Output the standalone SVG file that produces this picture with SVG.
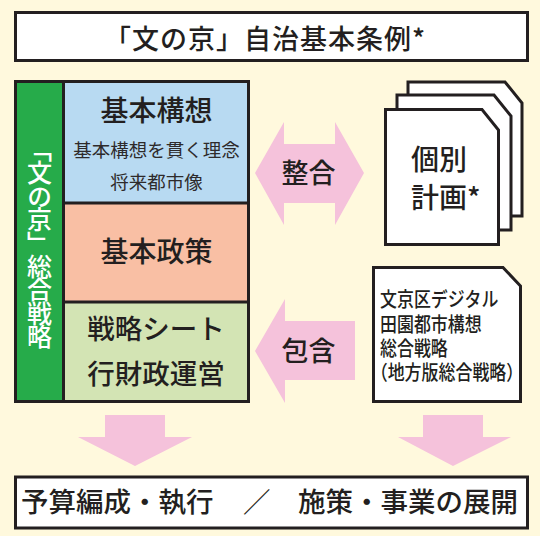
<svg xmlns="http://www.w3.org/2000/svg" width="540" height="536" viewBox="0 0 540 536">
<style>
.bg{fill:#FFF9DD}
.box{fill:#FFFFFF;stroke:#231F20;stroke-width:3}
.line{fill:none;stroke:#231F20;stroke-width:3}
.arrow{fill:#F5C2DB}
.t{font-family:"Noto Sans CJK JP","Noto Sans",sans-serif;fill:#231F20;font-weight:500}
.sub{font-family:"Noto Sans CJK JP","Noto Sans",sans-serif;fill:#2E2A2B;font-weight:400}
.v{font-family:"Noto Sans CJK JP","Noto Sans",sans-serif;fill:#FFFFFF;font-weight:500;writing-mode:vertical-rl}
</style>
<rect class="bg" x="0" y="0" width="540" height="536"/>

<g id="title">
<rect class="box" x="15.5" y="12.5" width="512" height="48"/>
<text class="t" x="104" y="49" font-size="27" letter-spacing="1">「文の京」自治基本条例*</text>
</g>

<g id="strategy">
<rect x="15.5" y="81.5" width="48" height="320" fill="#26AB4A"/>
<rect x="63.5" y="81.5" width="185" height="121.5" fill="#B8DAF2"/>
<rect x="63.5" y="203" width="185" height="99" fill="#F9BFA4"/>
<rect x="63.5" y="302" width="185" height="99.5" fill="#D3E4B4"/>
<rect class="line" x="15.5" y="81.5" width="233" height="320"/>
<line class="line" x1="63.5" y1="81.5" x2="63.5" y2="401.5"/>
<line class="line" x1="63.5" y1="203" x2="248.5" y2="203"/>
<line class="line" x1="63.5" y1="302" x2="248.5" y2="302"/>
<text class="v" x="39.5" y="137" font-size="25" textLength="212" lengthAdjust="spacing">「文の京」総合戦略</text>
</g>

<g id="basic-plan">
<text class="t" x="156.5" y="121" font-size="28" text-anchor="middle">基本構想</text>
<text class="sub" x="156.5" y="157" font-size="18.5" text-anchor="middle">基本構想を貫く理念</text>
<text class="sub" x="156.5" y="189" font-size="18.5" text-anchor="middle">将来都市像</text>
</g>

<g id="basic-policy">
<text class="t" x="156.5" y="262" font-size="28" text-anchor="middle">基本政策</text>
</g>

<g id="strategy-sheet">
<text class="t" x="156" y="339" font-size="27.5" text-anchor="middle">戦略シート</text>
<text class="t" x="156" y="384" font-size="27.5" text-anchor="middle">行財政運営</text>
</g>

<g id="individual-plans">
<path class="box" d="M408,82 H505 L522,103 V216 H408 Z"/>
<path class="box" d="M397,95 H494 L511,116 V230 H397 Z"/>
<path class="box" d="M385.5,109.5 H482 L498.5,130 V244.5 H385.5 Z"/>
<text class="t" x="411" y="170" font-size="28">個別</text>
<text class="t" x="411" y="208" font-size="28">計画*</text>
</g>

<g id="digital-strategy">
<path class="box" d="M373.5,267.5 H503 L520.5,286 V401.5 H373.5 Z"/>
<g transform="translate(380,0) scale(0.84,1)">
<text class="t" x="0" y="307.5" font-size="20.2"><tspan x="0" y="307.5">文京区デジタル</tspan><tspan x="0" y="332">田園都市構想</tspan><tspan x="0" y="356.5">総合戦略</tspan><tspan x="-1" y="380.5" style="font-feature-settings:'halt' 1">（地方版総合戦略）</tspan></text>
</g>
</g>

<g id="output">
<rect class="box" x="15.5" y="477" width="512" height="51"/>
<text class="t" x="21" y="512" font-size="27.5">予算編成・執行</text>
<text class="t" x="243" y="512" font-size="27.5" font-weight="300">／</text>
<text class="t" x="298" y="512" font-size="27.5">施策・事業の展開</text>
</g>

<g id="connectors">
<polygon class="arrow" points="255,173 284,122 284,144 335,144 335,122 364,173 335,225 335,203 284,203 284,225"/>
<polygon class="arrow" points="255,351 285,299 285,321 355,321 355,380 285,380 285,403"/>
<polygon class="arrow" points="105,415 165,415 165,437 192,437 135,466 78,437 105,437"/>
<polygon class="arrow" points="423,415 483,415 483,437 511,437 453,466 398,437 423,437"/>
<text class="t" x="308.5" y="183" font-size="27" text-anchor="middle">整合</text>
<text class="t" x="308.5" y="361" font-size="27" text-anchor="middle">包含</text>
</g>
</svg>
